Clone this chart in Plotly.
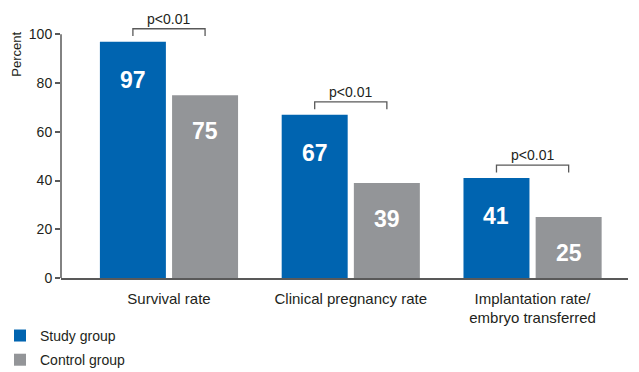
import plotly.graph_objects as go

categories = ["Survival rate", "Clinical pregnancy rate", "Implantation rate/<br>embryo transferred"]
study_group = [97, 67, 41]
control_group = [75, 39, 25]
y_ticks = [0, 20, 40, 60, 80, 100]
sig_label = "p<0.01"

BLUE = "#0064b0"
GREY = "#939598"
AXIS = "#595959"
TEXT = "#231f20"
FONT = "Liberation Sans, Arial, sans-serif"

BAR_W = 0.363
OFF_STUDY = -0.38
OFF_CONTROL = 0.017

x_pos = list(range(len(categories)))

fig = go.Figure()
fig.add_trace(go.Bar(
    x=x_pos, y=study_group, name="Study group", legendgroup="study",
    marker=dict(color=BLUE, line=dict(width=0)),
    width=BAR_W, offset=OFF_STUDY,
))
fig.add_trace(go.Bar(
    x=x_pos, y=control_group, name="Control group", legendgroup="control",
    marker=dict(color=GREY, line=dict(width=0)),
    width=BAR_W, offset=OFF_CONTROL,
))

c_study = OFF_STUDY + BAR_W / 2
c_control = OFF_CONTROL + BAR_W / 2

# value labels inside bars
for xi, v in zip(x_pos, study_group):
    fig.add_annotation(x=xi + c_study, y=v, text=str(v), showarrow=False,
                       yshift=-38, font=dict(family=FONT, size=23, color="white", weight="bold"))
for xi, v in zip(x_pos, control_group):
    fig.add_annotation(x=xi + c_control, y=v, text=str(v), showarrow=False,
                       yshift=-36, font=dict(family=FONT, size=23, color="white", weight="bold"))

# significance brackets
for xi, v in zip(x_pos, study_group):
    x0 = xi + c_study
    x1 = xi + c_control
    fig.add_shape(type="path",
                  path=f"M {x0} {v + 2.3} L {x0} {v + 5.3} L {x1} {v + 5.3} L {x1} {v + 2.3}",
                  xref="x", yref="y", line=dict(color=AXIS, width=1.3))
    fig.add_annotation(x=(x0 + x1) / 2, y=v + 5.3, text=sig_label, showarrow=False,
                       yanchor="bottom", yshift=0,
                       font=dict(family=FONT, size=14, color=TEXT))

# y axis line only up to 100
fig.add_shape(type="line", xref="paper", yref="y", x0=0, x1=0, y0=0, y1=max(y_ticks),
              line=dict(color=AXIS, width=1.5))

fig.add_annotation(xref="paper", yref="paper", x=-0.078, y=0.836, text="Percent",
                   textangle=-90, showarrow=False, xanchor="center", yanchor="middle",
                   font=dict(family=FONT, size=13, color=TEXT))

fig.update_layout(
    width=639, height=372,
    margin=dict(l=61, r=11, t=10, b=94, autoexpand=False),
    paper_bgcolor="white", plot_bgcolor="white",
    barmode="overlay",
    font=dict(family=FONT, color=TEXT),
    showlegend=True,
    legend=dict(xref="container", yref="container", x=0.0, y=0.14,
                xanchor="left", yanchor="top", traceorder="grouped",
                font=dict(family=FONT, size=14, color=TEXT),
                bgcolor="rgba(0,0,0,0)", tracegroupgap=3,
                itemsizing="constant"),
    xaxis=dict(range=[-0.594, 2.525], tickvals=x_pos, ticktext=categories,
               showline=True, linecolor=AXIS, linewidth=1.5, ticks="",
               showgrid=False, zeroline=False, ticklabelstandoff=6, automargin=False,
               tickfont=dict(family=FONT, size=15, color=TEXT)),
    yaxis=dict(range=[0, 110], tickvals=y_ticks, showline=False, ticks="outside",
               ticklen=5, tickcolor=AXIS, tickwidth=1.5, showgrid=False, zeroline=False,
               automargin=False,
               tickfont=dict(family=FONT, size=14, color=TEXT)),
)

fig.write_html("out.html", config={"displayModeBar": False},
               post_script="document.body.style.margin='0';document.body.style.padding='0';")
